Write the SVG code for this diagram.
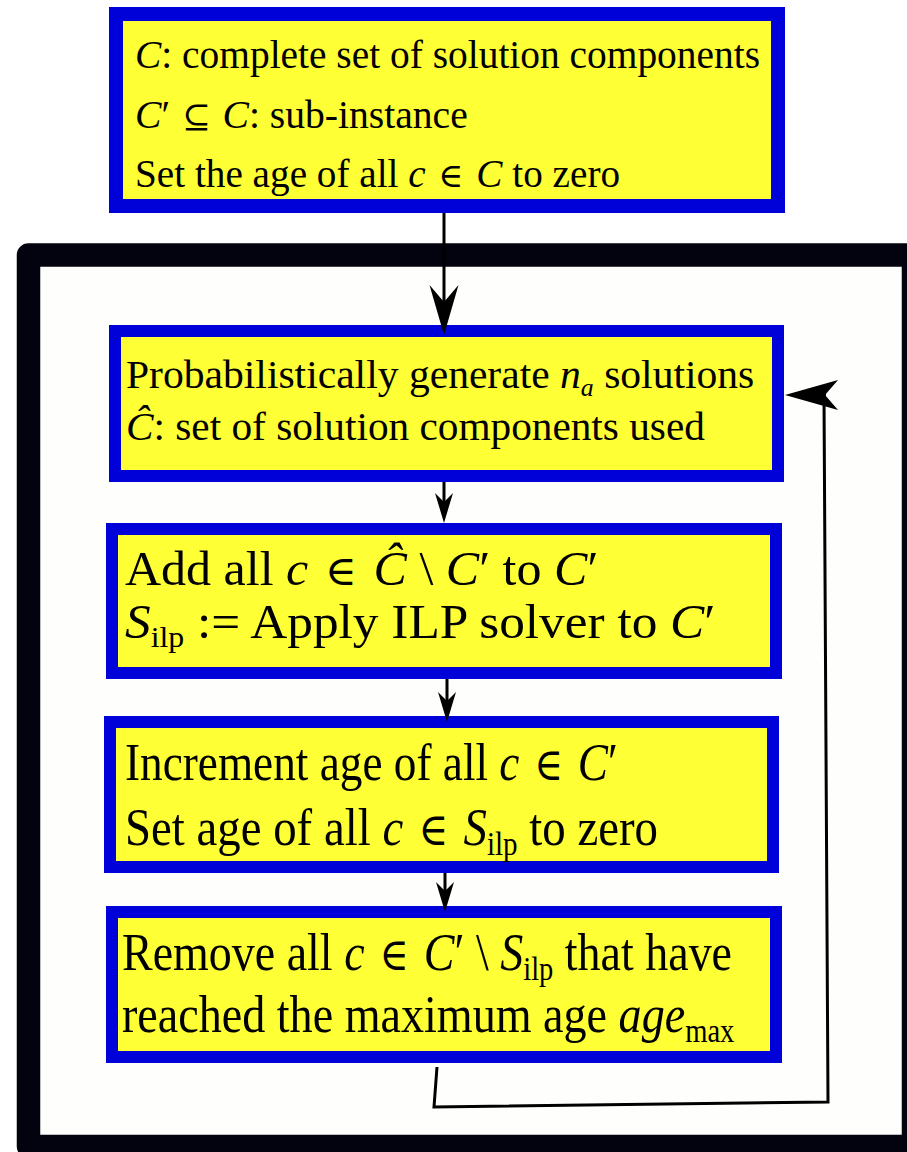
<svg xmlns="http://www.w3.org/2000/svg" width="907" height="1152" viewBox="0 0 907 1152">
  <style>
    .box { fill: #ffff36; stroke: #0000d8; }
    .t { font-family: "Liberation Serif", "DejaVu Serif", serif; fill: #000; }
    .s { font-size: 39px; }
    .l { font-size: 53px; }
    .m { font-size: 48px; }
    .i { font-style: italic; }
    .sub { font-size: 62%; font-style: normal; }
    .op { font-family: "DejaVu Serif", serif; font-weight: normal; font-size: 86%; }
    .wire { fill: none; stroke: #000; stroke-width: 3; }
  </style>
  <defs>
    <!-- barbed arrowheads; the reference point sits in the notch -->
    <marker id="headBig" markerUnits="userSpaceOnUse" viewBox="-18 -16 53 32" refX="0" refY="0" markerWidth="53" markerHeight="32" orient="auto" overflow="visible">
      <path d="M33,0 L-17,-14.5 L0,0 L-17,14.5 Z" fill="#000"/>
    </marker>
    <marker id="headSmall" markerUnits="userSpaceOnUse" viewBox="-10 -10 33 20" refX="0" refY="0" markerWidth="33" markerHeight="20" orient="auto" overflow="visible">
      <path d="M21,0 L-9,-9 L0,0 L-9,9 Z" fill="#000"/>
    </marker>
    <marker id="headLoop" markerUnits="userSpaceOnUse" viewBox="-14 -16 56 32" refX="0" refY="0" markerWidth="56" markerHeight="32" orient="auto" overflow="visible">
      <path d="M40,0 L-13,-15 L0,0 L-13,15 Z" fill="#000"/>
    </marker>
  </defs>

  <rect width="907" height="1152" fill="#ffffff"/>

  <!-- loop frame -->
  <g id="loop-frame">
    <path d="M28.5,1146.5 L28.5,255 L913.5,255 L913.5,1146.5 Z" fill="#fefefc" stroke="#03030f" stroke-width="23.5" stroke-linejoin="round"/>
  </g>

  <!-- initialisation -->
  <g id="init">
    <rect class="box" x="116" y="14" width="662" height="192" stroke-width="14"/>
    <text class="t s" transform="translate(135,68) scale(1,1)" textLength="625" lengthAdjust="spacingAndGlyphs"><tspan class="i">C</tspan>: complete set of solution components</text>
    <text class="t s" transform="translate(135,128) scale(0.94,1)" textLength="354" lengthAdjust="spacingAndGlyphs"><tspan class="i">C</tspan>′ <tspan class="op" dx="2">⊆</tspan> <tspan class="i" dx="2">C</tspan>: sub-instance</text>
    <text class="t s" transform="translate(135,187) scale(0.98,1)" textLength="495" lengthAdjust="spacingAndGlyphs">Set the age of all <tspan class="i">c</tspan> <tspan class="op" dx="3">∈</tspan> <tspan class="i" dx="3">C</tspan> to zero</text>
  </g>

  <!-- construct solutions -->
  <g id="generate">
    <rect class="box" x="115" y="331" width="663" height="145" stroke-width="12"/>
    <text class="t s" transform="translate(126,388) scale(1.03,1)" textLength="610" lengthAdjust="spacingAndGlyphs">Probabilistically generate <tspan class="i">n</tspan><tspan class="sub" dy="8" style="font-style:italic">a</tspan><tspan dy="-8"> solutions</tspan></text>
    <text class="t s" transform="translate(126,440) scale(1.03,1)" textLength="562" lengthAdjust="spacingAndGlyphs"><tspan class="i">Ĉ</tspan>: set of solution components used</text>
  </g>

  <!-- merge and solve -->
  <g id="solve">
    <rect class="box" x="112" y="529" width="664" height="144" stroke-width="12"/>
    <text class="t m" transform="translate(125,585) scale(0.98,1)" textLength="483" lengthAdjust="spacingAndGlyphs">Add all <tspan class="i">c</tspan> <tspan class="op" dx="4">∈</tspan> <tspan class="i" dx="4">Ĉ</tspan> \ <tspan class="i">C</tspan>′ to <tspan class="i">C</tspan>′</text>
    <text class="t m" transform="translate(125,638) scale(1.02,1)" textLength="579" lengthAdjust="spacingAndGlyphs"><tspan class="i">S</tspan><tspan class="sub" dy="9">ilp</tspan><tspan dy="-9"> := Apply ILP solver to </tspan><tspan class="i">C</tspan>′</text>
  </g>

  <!-- ageing -->
  <g id="age">
    <rect class="box" x="110" y="722" width="663" height="145" stroke-width="12"/>
    <text class="t l" transform="translate(125,780) scale(0.82,1)" textLength="601" lengthAdjust="spacingAndGlyphs">Increment age of all <tspan class="i">c</tspan> <tspan class="op" dx="4">∈</tspan> <tspan class="i" dx="4">C</tspan>′</text>
    <text class="t l" transform="translate(125,845) scale(0.85,1)" textLength="627" lengthAdjust="spacingAndGlyphs">Set age of all <tspan class="i">c</tspan> <tspan class="op" dx="4">∈</tspan> <tspan class="i" dx="4">S</tspan><tspan class="sub" dy="10">ilp</tspan><tspan dy="-10"> to zero</tspan></text>
  </g>

  <!-- removal -->
  <g id="remove">
    <rect class="box" x="112" y="912" width="664" height="145" stroke-width="12"/>
    <text class="t l" transform="translate(122,970) scale(0.83,1)" textLength="735" lengthAdjust="spacingAndGlyphs">Remove all <tspan class="i">c</tspan> <tspan class="op" dx="4">∈</tspan> <tspan class="i" dx="4">C</tspan>′ \ <tspan class="i">S</tspan><tspan class="sub" dy="10">ilp</tspan><tspan dy="-10"> that have</tspan></text>
    <text class="t l" transform="translate(122,1032) scale(0.84,1)" textLength="729" lengthAdjust="spacingAndGlyphs">reached the maximum age <tspan class="i">age</tspan><tspan class="sub" dy="10">max</tspan></text>
  </g>

  <!-- connectors -->
  <g id="connectors">
    <path class="wire" d="M444,213 L444,302" marker-end="url(#headBig)"/>
    <path class="wire" d="M444,482 L444,502" marker-end="url(#headSmall)"/>
    <path class="wire" d="M447,679 L447,701" marker-end="url(#headSmall)"/>
    <path class="wire" d="M445,873 L445,891" marker-end="url(#headSmall)"/>
    <path class="wire" d="M437,1067 L434,1107 L828,1102 L824,397 M826,395 L825,395" stroke-linejoin="miter" marker-end="url(#headLoop)"/>
  </g>
</svg>
